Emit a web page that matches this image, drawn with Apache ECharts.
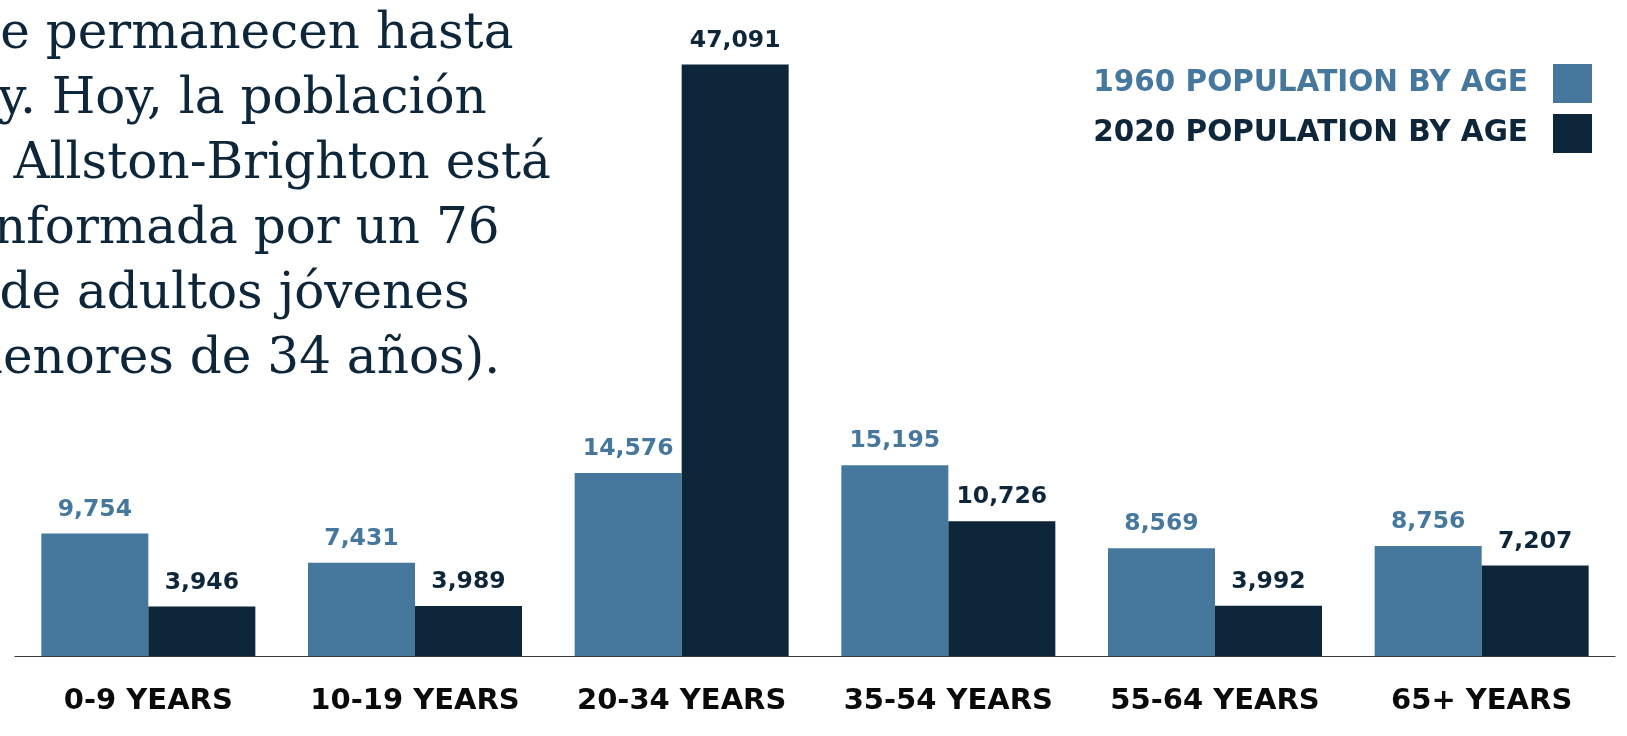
<!DOCTYPE html>
<html>
<head>
<meta charset="utf-8">
<script src="https://cdn.jsdelivr.net/npm/echarts@6/dist/echarts.min.js"></script>
<style>
html,body{margin:0;padding:0;background:#fff;}
#chart{width:1627px;height:736px;}
</style>
</head>
<body>
<div id="chart"></div>
<script>
const categories = ['0-9 YEARS', '10-19 YEARS', '20-34 YEARS', '35-54 YEARS', '55-64 YEARS', '65+ YEARS'];
const seriesNames = ['1960 POPULATION BY AGE', '2020 POPULATION BY AGE'];
const pop1960 = [9754, 7431, 14576, 15195, 8569, 8756];
const pop2020 = [3946, 3989, 47091, 10726, 3992, 7207];
const paragraphLines = [
  'que permanecen hasta',
  'hoy. Hoy, la población',
  'de Allston-Brighton está',
  'conformada por un 76',
  '% de adultos jóvenes',
  '(menores de 34 años).'
];

const C1960 = '#46789d';
const C2020 = '#0e263a';
const SANS = '"DejaVu Sans", sans-serif';

const chart = echarts.init(document.getElementById('chart'), null, {renderer: 'canvas'});

function fmt(v) { return v.toLocaleString('en-US'); }

const option = {
  backgroundColor: '#ffffff',
  animation: false,
  grid: {left: 15, right: 12, top: 28, bottom: 80, containLabel: false},
  legend: {
    right: 30,
    top: 59,
    orient: 'vertical',
    align: 'right',
    itemWidth: 39,
    itemHeight: 39,
    itemGap: 11,
    icon: 'rect',
    textStyle: {fontFamily: SANS, fontWeight: 'bold', fontSize: 29.5, padding: [12, 20, 0, 0]},
    data: [
      {name: seriesNames[0], textStyle: {color: C1960}},
      {name: seriesNames[1], textStyle: {color: C2020}}
    ]
  },
  xAxis: {
    type: 'category',
    data: categories,
    axisLine: {show: true, lineStyle: {color: '#3a3a3a', width: 1.2}},
    axisTick: {show: false},
    axisLabel: {
      interval: 0,
      color: '#0a0a0a',
      fontFamily: SANS,
      fontWeight: 'bold',
      fontSize: 29,
      margin: 31
    }
  },
  yAxis: {
    type: 'value',
    min: 0,
    max: 50000,
    show: false,
    splitLine: {show: false}
  },
  series: [
    {
      name: seriesNames[0],
      type: 'bar',
      data: pop1960,
      barWidth: 107,
      barGap: '0%',
      itemStyle: {color: C1960},
      label: {
        show: true,
        position: 'top',
        distance: 12,
        color: C1960,
        fontFamily: SANS,
        fontWeight: 'bold',
        fontSize: 23.5,
        formatter: p => fmt(p.value)
      }
    },
    {
      name: seriesNames[1],
      type: 'bar',
      data: pop2020,
      barWidth: 107,
      barGap: '0%',
      itemStyle: {color: C2020},
      label: {
        show: true,
        position: 'top',
        distance: 12,
        color: C2020,
        fontFamily: SANS,
        fontWeight: 'bold',
        fontSize: 23.5,
        formatter: p => fmt(p.value)
      }
    }
  ],
  graphic: [
    {
      type: 'text',
      left: -64,
      top: 3,
      silent: true,
      style: {
        text: paragraphLines.join('\n'),
        fill: '#0e2639',
        font: '50px "DejaVu Serif", serif',
        lineHeight: 65,
        textAlign: 'left'
      }
    }
  ]
};

chart.setOption(option);
</script>
</body>
</html>
